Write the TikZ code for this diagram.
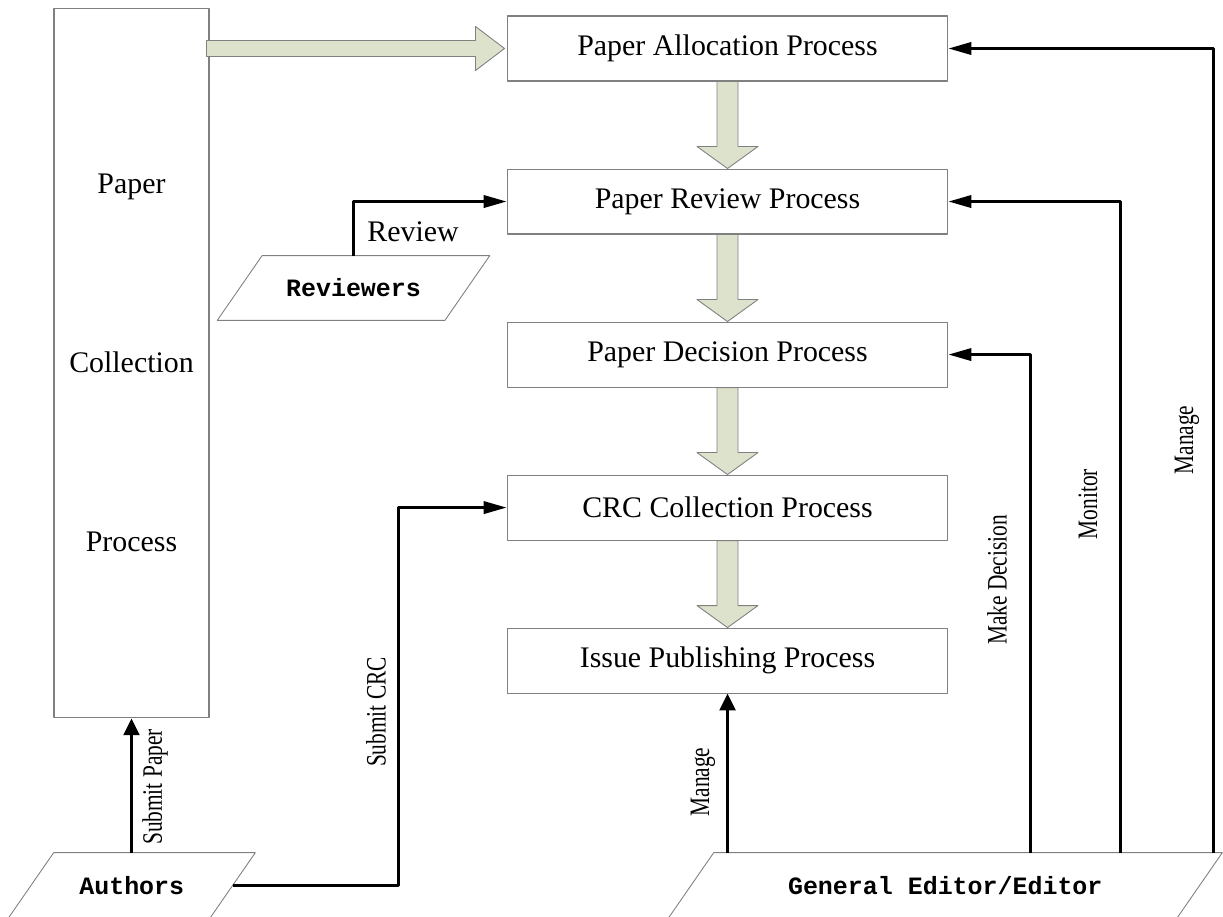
\documentclass[tikz,border=0pt]{standalone}
\usepackage{fontspec}
\setmainfont{Liberation Serif}
\setmonofont{Liberation Mono}
\newfontfamily\narrowfont{Liberation Serif}[FakeStretch=0.76]
\usepackage{tikz}
\usetikzlibrary{arrows.meta,positioning,calc}
\definecolor{arrowfill}{RGB}{221,226,204}
\definecolor{boxline}{RGB}{128,128,128}

\begin{document}
\begin{tikzpicture}[x=0.02cm,y=-0.02cm,line join=round,
    proc/.style={draw=boxline,line width=0.6pt,minimum width=8.82cm,minimum height=1.3cm,inner sep=0pt,font=\fontsize{17}{20.4}\selectfont},
    actor/.style={inner sep=0pt,font=\ttfamily\bfseries\fontsize{14.2}{17}\selectfont},
    actorline/.style={draw=boxline,line width=0.5pt},
    link/.style={line width=1.5pt,-{Triangle[length=13pt,width=7pt]}},
    uplink/.style={line width=1.5pt,-{Triangle[length=9.5pt,width=9pt]}},
    fat/.style={draw=boxline,line width=0.5pt,fill=arrowfill},
    lbl/.style={inner sep=0pt,font=\fontsize{17}{20.4}\selectfont},
    vlbl/.style={inner sep=0pt,rotate=90,font=\narrowfont\fontsize{16}{19}\selectfont}]
    \useasboundingbox (0,0) rectangle (1223,916);
    \clip (0,0) rectangle (1223,916);

    % processes
    \node[draw=boxline,line width=0.6pt,minimum width=3.1cm,minimum height=14.2cm,align=center,
          font=\fontsize{17}{20.4}\selectfont] (collect) at (131.5,363)
          {Paper\\[81.6pt]Collection\\[81.6pt]Process};
    \node[proc] (alloc) at (727.5,48.5) {Paper Allocation Process};
    \node[proc,below=1.74cm of alloc] (review) {Paper Review Process};
    \node[proc,below=1.74cm of review] (decision) {Paper Decision Process};
    \node[proc,below=1.74cm of decision] (crc) {CRC Collection Process};
    \node[proc,below=1.74cm of crc] (issue) {Issue Publishing Process};

    % actors (slanted boxes)
    \node[actor,minimum width=4.54cm,minimum height=1.28cm] (reviewers) at (353.5,288) {Reviewers};
    \node[actor,minimum width=4.02cm,minimum height=1.3cm] (authors) at (131.75,885.5) {Authors};
    \node[actor,minimum width=10.16cm,minimum height=1.3cm] (editor) at (945.25,885.5) {General Editor/Editor};
    \foreach \n/\d in {reviewers/22.4,authors/22.75,editor/22.75}
        \draw[actorline] ($(\n.north west)+(\d,0)$) -- ($(\n.north east)+(\d,0)$)
            -- ($(\n.south east)+(-\d,0)$) -- ($(\n.south west)+(-\d,0)$) -- cycle;

    % big arrows
    \draw[fat] ($(collect.east |- alloc.west)+(-3,-8)$) -- ($(alloc.west)+(-31,-8)$) -- ($(alloc.west)+(-31,-22)$)
        -- ($(alloc.west)+(-2,0)$) -- ($(alloc.west)+(-31,22)$) -- ($(alloc.west)+(-31,8)$)
        -- ($(collect.east |- alloc.west)+(-3,8)$) -- cycle;
    \foreach \a/\b in {alloc/review,review/decision,decision/crc,crc/issue}
        \draw[fat] ($(\a.south)+(-10.5,0)$) -- ($(\b.north)+(-10.5,-22)$) -- ($(\b.north)+(-30.5,-22)$)
            -- (\b.north) -- ($(\b.north)+(30.5,-22)$) -- ($(\b.north)+(10.5,-22)$)
            -- ($(\a.south)+(10.5,0)$) -- cycle;

    % links
    \draw[link] (reviewers.north) |- (review.west);
    \draw[uplink] (collect.south |- authors.north) -- (collect.south);
    \draw[link] (authors.east) -- ++(166,0) |- (crc.west);
    \draw[uplink] (issue.south |- editor.north) -- (issue.south);
    \draw[link] (editor.north) ++(85,0) |- (decision.east);
    \draw[link] (editor.north) ++(175,0) |- (review.east);
    \draw[link] (editor.north) ++(268,0) |- (alloc.east);

    % labels
    \node[lbl] (lreview) at (413,232) {Review};
    \node[vlbl] (lsubpaper) at (155,787) {Submit Paper};
    \node[vlbl] (lsubcrc) at (376,712) {Submit CRC};
    \node[vlbl] (lmanage) at (703,782) {Manage};
    \node[vlbl] (lmake) at (997,580) {Make Decision};
    \node[vlbl] (lmonitor) at (1088,504) {Monitor};
    \node[vlbl] (lmanagetop) at (1187,440) {Manage};
\end{tikzpicture}
\end{document}
